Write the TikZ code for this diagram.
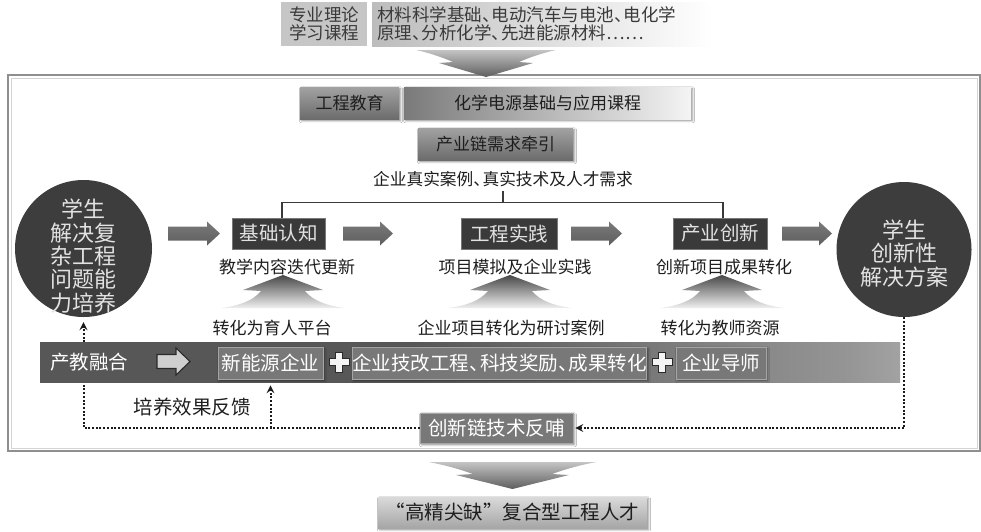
\documentclass[tikz,border=0pt]{standalone}
\usepackage{fontspec}
\setmainfont{Noto Sans CJK SC}
\usetikzlibrary{shadows.blur,arrows.meta}
\definecolor{darkbox}{HTML}{3A3A3A}
\definecolor{circfill}{HTML}{3D3D3D}
\definecolor{lighttext}{HTML}{E2E2E2}
\definecolor{arrT}{HTML}{7A7A7A}
\definecolor{arrB}{HTML}{5E5E5E}
\definecolor{bandL}{HTML}{575757}
\definecolor{bandM}{HTML}{959595}
\definecolor{bandN}{HTML}{DADADA}
\definecolor{bandbox}{HTML}{787878}
\definecolor{bandboxd}{HTML}{A5A5A5}
\definecolor{hbT}{HTML}{A2A2A2}
\definecolor{hbB}{HTML}{6C6C6C}
\definecolor{hL}{HTML}{7A7A7A}
\definecolor{hR}{HTML}{F4F4F4}
\definecolor{topgray}{HTML}{C6C6C6}
\definecolor{topL}{HTML}{BCBCBC}
\definecolor{toptext}{HTML}{3A3A3A}
\definecolor{maintext}{HTML}{1E1E1E}
\definecolor{chT}{HTML}{C4C4C4}
\definecolor{chB}{HTML}{5E5E5E}
\definecolor{pgT}{HTML}{474747}
\definecolor{pgB}{HTML}{F0F0F0}
\definecolor{frO}{HTML}{8F8F8F}
\definecolor{frI}{HTML}{D4D4D4}
\definecolor{botT}{HTML}{DADADA}
\definecolor{botB}{HTML}{A6A6A6}
\definecolor{plf}{HTML}{F4F4F4}
\definecolor{pld}{HTML}{2A2A2A}
\definecolor{dotc}{HTML}{1A1A1A}
\definecolor{grayarr}{HTML}{CFCFCF}
\pgfdeclarehorizontalshading{bandsh}{100bp}{color(0bp)=(bandL); color(47bp)=(bandL); color(72bp)=(bandM); color(88bp)=(bandN); color(100bp)=(white)}
\newcommand\dn{、\kern-0.45em}
\tikzset{
  fs17/.style={font=\fontsize{17}{18}\selectfont},
  fs19/.style={font=\fontsize{19.5}{21}\selectfont},
  shd/.style={blur shadow={shadow xshift=1.5pt, shadow yshift=-1.8pt, shadow blur radius=2pt, shadow opacity=45}},
  headbox/.style={shd, top color=hbT, bottom color=hbB, text=maintext, inner sep=0pt, minimum height=32pt, fs17},
  flowbox/.style={fill=darkbox, draw=bandbox, line width=0.6pt, text=lighttext, inner sep=0pt, minimum height=31pt, fs19},
  bandboxst/.style={shd, fill=bandbox, draw=bandboxd, line width=0.7pt, text=white, inner sep=0pt, minimum height=32pt, fs19},
  dotline/.style={draw=dotc, line width=2pt, dash pattern=on 2pt off 1.7pt},
  tipst/.style={-{Stealth[length=8pt,width=8pt,inset=3pt]}},
  plaintext/.style={text=maintext, inner sep=0pt},
  brk/.style={draw=darkbox, line width=1.5pt},
  blkarr/.pic={\path[top color=arrT, bottom color=arrB] ({-#1/2},-7) -- ({#1/2-13},-7) -- ({#1/2-13},-12) -- ({#1/2},0) -- ({#1/2-13},12) -- ({#1/2-13},7) -- ({-#1/2},7) -- cycle;},
  grayarrow/.pic={\draw[fill=grayarr, draw=pld, line width=1.1pt, line join=miter] (-16.5,-7) -- (2.5,-7) -- (2.5,-13.5) -- (16.5,0) -- (2.5,13.5) -- (2.5,7) -- (-16.5,7) -- cycle;},
  chev/.pic={\path[top color=chT, bottom color=chB] (-70,0) -- (70,0) .. controls (52,4) and (40,9) .. (33,12) -- (47,13) -- (0,27) -- (-47,13) -- (-33,12) .. controls (-40,9) and (-52,4) .. (-70,0) -- cycle;},
  pagoda/.pic={\path[top color=pgT, bottom color=pgB] (0,0) -- (-40,15) -- (-22,16) .. controls (-30,26) and (-45,31) .. (-62,33) -- (62,33) .. controls (45,31) and (30,26) .. (22,16) -- (40,15) -- cycle;},
  plusic/.pic={\draw[fill=plf, draw=pld, line width=1pt] (-3.5,-10) -- (3.5,-10) -- (3.5,-3.5) -- (10,-3.5) -- (10,3.5) -- (3.5,3.5) -- (3.5,10) -- (-3.5,10) -- (-3.5,3.5) -- (-10,3.5) -- (-10,-3.5) -- (-3.5,-3.5) -- cycle;}
}
\begin{document}
\begin{tikzpicture}[x=1pt,y=-1pt]
\useasboundingbox (0,0) rectangle (981,531);
\fill[white] (0,0) rectangle (981,531);

% top course boxes
\node[fill=topgray, text=toptext, inner sep=0pt, minimum width=86pt, minimum height=44pt, align=center, font=\fontsize{17.5}{18.5}\selectfont] (t1) at (324,24) {专业理论\\学习课程};
\node[left color=topL, right color=white, inner sep=0pt, minimum width=340pt, minimum height=44pt] (t2) at (542,24) {};
\node[anchor=west, align=left, text=toptext, inner sep=0pt, font=\fontsize{17.5}{18.5}\selectfont] (t2t) at (377,24) {材料科学基础\dn 电动汽车与电池\dn 电化学\\原理\dn 分析化学\dn 先进能源材料……};

% frame
\draw[draw=frO, line width=1.5pt, fill=white] (8,75) rectangle (980,451);
\draw[draw=frI, line width=1pt] (11,78) rectangle (977,448);
\pic at (486,50) {chev};

% dotted feedback lines (behind band)
\node[shd, fill=bandbox, draw=bandboxd, line width=0.7pt, text=white, inner sep=0pt, minimum width=153pt, minimum height=30pt, fs19] (cxl) at (496.5,428) {创新链技术反哺};
\node[circle, fill=circfill, minimum size=137pt, inner sep=0pt] (lc) at (83.5,248.5) {};
\node[circle, fill=circfill, minimum size=135pt, inner sep=0pt] (rc) at (904,249.5) {};
\coordinate (cr) at (rc.south |- cxl.east);
\coordinate (cl) at (lc.south |- cxl.west);
\draw[dotline, tipst] (rc.south) -- (cr) -- ([xshift=2pt]cxl.east);
\draw[dotline, tipst] (cxl.west) -- (cl) -- ([yshift=-5pt]lc.south);

% headline boxes
\node[headbox, minimum width=99pt] (gcjy) at (349.5,103) {工程教育};
\node[shd, left color=hL, right color=hR, text=maintext, inner sep=0pt, minimum width=287pt, minimum height=32pt, fs17] (kc) at (547.5,103) {化学电源基础与应用课程};
\node[headbox, minimum width=155pt] (cyl) at (495.5,144) {产业链需求牵引};
\node[plaintext, font=\fontsize{16.7}{18}\selectfont] (req) at (503,179) {企业真实案例\dn 真实技术及人才需求};

% circles text
\node[text=lighttext, align=center, inner sep=0pt, font=\fontsize{22}{23.3}\selectfont] (lct) at (83.5,256) {学生\\解决复\\杂工程\\问题能\\力培养};
\node[text=lighttext, align=center, inner sep=0pt, font=\fontsize{22}{23.5}\selectfont] (rct) at (904,253.5) {学生\\创新性\\解决方案};

% flow row
\node[flowbox, minimum width=93pt] (jc) at (278.5,233.5) {基础认知};
\node[flowbox, minimum width=96pt] (gc) at (509,233.5) {工程实践};
\node[flowbox, minimum width=94pt] (cx) at (720,233.5) {产业创新};
\pic at (194,233.5) {blkarr=52};
\pic at (368,233.5) {blkarr=50};
\pic at (596.5,233.5) {blkarr=51};
\pic at (807,233.5) {blkarr=50};

% bracket
\coordinate (nub) at (503,203);
\draw[brk] ([xshift=3.5pt]jc.north) -- ++(0,-15) -| ([xshift=3pt]cx.north);
\draw[brk] (nub) -- ++(0,-12);

% texts below boxes
\node[plaintext, fs17] (d1) at (287,267) {教学内容迭代更新};
\node[plaintext, fs17] (d2) at (515,267) {项目模拟及企业实践};
\node[plaintext, fs17] (d3) at (724,267) {创新项目成果转化};

\pic at (283,275) {pagoda};
\pic at (510,275) {pagoda};
\pic at (722,275) {pagoda};

\node[plaintext, fs17] (e1) at (272,328) {转化为育人平台};
\node[plaintext, fs17] (e2) at (511,328) {企业项目转化为研讨案例};
\node[plaintext, fs17] (e3) at (720,328) {转化为教师资源};

% band
\path[shading=bandsh] (40,342) rectangle (900,382);
\node[text=white, inner sep=0pt, fs19] (cjrh) at (89,362) {产教融合};
\pic at (173.5,361.5) {grayarrow};
\node[bandboxst, minimum width=105pt] (xny) at (270.5,363) {新能源企业};
\node[bandboxst, minimum width=293pt] (qy) at (499.5,363) {企业技改工程\dn 科技奖励\dn 成果转化};
\node[bandboxst, minimum width=90pt] (ds) at (721,363) {企业导师};
\pic at (339,362) {plusic};
\pic at (662,362) {plusic};

% feedback branch
\draw[dotline, tipst] (xny.south |- cxl.west) -- ([yshift=-6pt]xny.south);
\node[plaintext, fs19] (fb) at (192,407) {培养效果反馈};

% bottom
\pic[xscale=1.2] at (512.5,462) {chev};
\node[shd, top color=botT, bottom color=botB, text=maintext, inner sep=0pt, minimum width=269pt, minimum height=31pt, fs19] (res) at (512.5,512.5) {“高精尖缺”复合型工程人才};
\end{tikzpicture}
\end{document}
